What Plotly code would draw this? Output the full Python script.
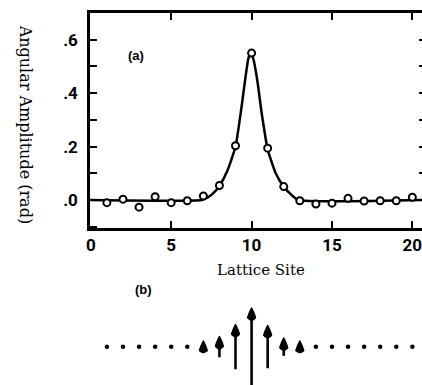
import plotly.graph_objects as go

# ---- data ----
sites = list(range(1, 21))
amplitude = [-0.010, 0.003, -0.027, 0.012, -0.010, -0.003, 0.015, 0.054, 0.203, 0.550,
             0.194, 0.050, -0.003, -0.015, -0.012, 0.006, -0.004, -0.003, -0.003, 0.010]

curve_x = [0, 6.9, 7.3, 7.7, 8.0, 8.5, 9.0, 9.35, 9.6, 9.8, 9.95, 10.1, 10.35, 10.6, 11.0, 11.5, 12.0, 12.5, 12.9, 20.7]
curve_y = [0, 0, 0.01, 0.03, 0.052, 0.11, 0.20, 0.337, 0.45, 0.53, 0.55, 0.53, 0.45, 0.337, 0.19, 0.10, 0.05, 0.018, 0, 0]

dot_sites = [1, 2, 3, 4, 5, 6, 14, 15, 16, 17, 18, 19, 20]
arrow_sites = [7, 8, 9, 10, 11, 12, 13]
arrow_half = [6, 10.5, 22.5, 39, 21.5, 9, 6]

x_ticks = [0, 5, 10, 15, 20]
x_ticktext = ["0", "5", "10", "15", "20"]
y_ticks = [-0.1, 0.0, 0.1, 0.2, 0.3, 0.4, 0.5, 0.6]
y_ticktext = ["", ".0", "", ".2", "", ".4", "", ".6"]

X_RANGE = [-0.05, 20.6]

# arrow head style (x in site units, y in panel-b units)
HEAD_HALF_W = 0.25
HEAD_LEN = 13

tickfont = dict(family="Liberation Sans Narrow, Roboto, Liberation Sans, sans-serif",
                size=17, color="black", weight="bold")
serif = "DejaVu Serif, Liberation Serif, serif"

fig = go.Figure()

fig.add_trace(go.Scatter(x=curve_x, y=curve_y, mode="lines",
                         line=dict(color="black", width=2.5, shape="spline", smoothing=0.5),
                         xaxis="x", yaxis="y", showlegend=False, hoverinfo="skip"))
fig.add_trace(go.Scatter(x=sites, y=amplitude, mode="markers",
                         marker=dict(symbol="circle", size=7, color="white", line=dict(color="black", width=2)),
                         xaxis="x", yaxis="y", showlegend=False))

# panel (b): dots
fig.add_trace(go.Scatter(x=dot_sites, y=[0] * len(dot_sites), mode="markers",
                         marker=dict(size=4.5, color="black"), xaxis="x2", yaxis="y2", showlegend=False))

# panel (b): arrow shafts and heads
shaft_x, shaft_y, head_x, head_y = [], [], [], []
for s, h in zip(arrow_sites, arrow_half):
    tip = h
    base = h - HEAD_LEN
    tail = -h
    if tail < base:
        shaft_x += [s, s, None]
        shaft_y += [tail, base + 2, None]
    head_x += [s - HEAD_HALF_W, s, s + HEAD_HALF_W, s, s - HEAD_HALF_W, None]
    head_y += [base + 3, tip, base + 3, max(base, tail), base + 3, None]

fig.add_trace(go.Scatter(x=shaft_x, y=shaft_y, mode="lines", line=dict(color="black", width=2.6),
                         xaxis="x2", yaxis="y2", showlegend=False, hoverinfo="skip"))
fig.add_trace(go.Scatter(x=head_x, y=head_y, mode="lines", fill="toself", fillcolor="black",
                         line=dict(color="black", width=1.2, shape="spline", smoothing=0.3),
                         xaxis="x2", yaxis="y2", showlegend=False, hoverinfo="skip"))

annotations = [
    dict(x=2.8, y=0.54, xref="x", yref="y", text="<b>(a)</b>", showarrow=False,
         xanchor="center", yanchor="middle",
         font=dict(family="Liberation Sans, Arial, sans-serif", size=13, color="black")),
    dict(x=0.16, y=0.258, xref="paper", yref="paper", text="<b>(b)</b>", showarrow=False,
         xanchor="center", yanchor="middle",
         font=dict(family="Liberation Sans, Arial, sans-serif", size=13, color="black")),
    dict(x=-0.196, y=0.70, xref="paper", yref="paper", text="Angular Amplitude (rad)", textangle=90,
         xanchor="center", yanchor="middle",
         showarrow=False, font=dict(family=serif, size=16, color="black")),
    dict(x=0.515, y=0.309, xref="paper", yref="paper", text="Lattice Site", showarrow=False,
         xanchor="center", yanchor="middle",
         font=dict(family=serif, size=15, color="black")),
]

fig.update_layout(
    width=422, height=385,
    margin=dict(l=90, r=0, t=13, b=0),
    paper_bgcolor="white", plot_bgcolor="white",
    xaxis=dict(domain=[0, 1], range=X_RANGE, tickvals=x_ticks, ticktext=x_ticktext,
               ticks="inside", ticklen=7, tickwidth=2, tickcolor="black",
               showline=True, linewidth=2.5, linecolor="black", mirror="ticks",
               showgrid=False, zeroline=False, tickfont=tickfont, ticklabelstandoff=0,
               ticklabeloverflow="allow", automargin=False, anchor="y"),
    yaxis=dict(domain=[0.422, 1], range=[-0.105, 0.70], tickvals=y_ticks, ticktext=y_ticktext,
               ticks="inside", ticklen=7, tickwidth=2, tickcolor="black",
               showline=True, linewidth=2.5, linecolor="black", mirror=False,
               showgrid=False, zeroline=False, tickfont=tickfont, ticklabelstandoff=6,
               ticklabeloverflow="allow", automargin=False, anchor="x"),
    yaxis3=dict(overlaying="y", side="right", range=[-0.105, 0.70], tickvals=y_ticks[1:],
                showticklabels=False, ticks="inside", ticklen=3, tickwidth=2, tickcolor="black",
                showline=False, showgrid=False, zeroline=False, automargin=False, anchor="x"),
    xaxis2=dict(domain=[0, 1], range=X_RANGE, visible=False, anchor="y2"),
    yaxis2=dict(domain=[0, 0.255], range=[-38.3, 56.7], visible=False, anchor="x2"),
    annotations=annotations,
)
# invisible trace to activate the right-hand tick axis
fig.add_trace(go.Scatter(x=[0], y=[0], mode="markers", marker=dict(opacity=0), xaxis="x", yaxis="y3",
                         showlegend=False, hoverinfo="skip"))

fig.write_html("out.html", config={"displayModeBar": False},
               post_script="document.body.style.margin='0px';")
